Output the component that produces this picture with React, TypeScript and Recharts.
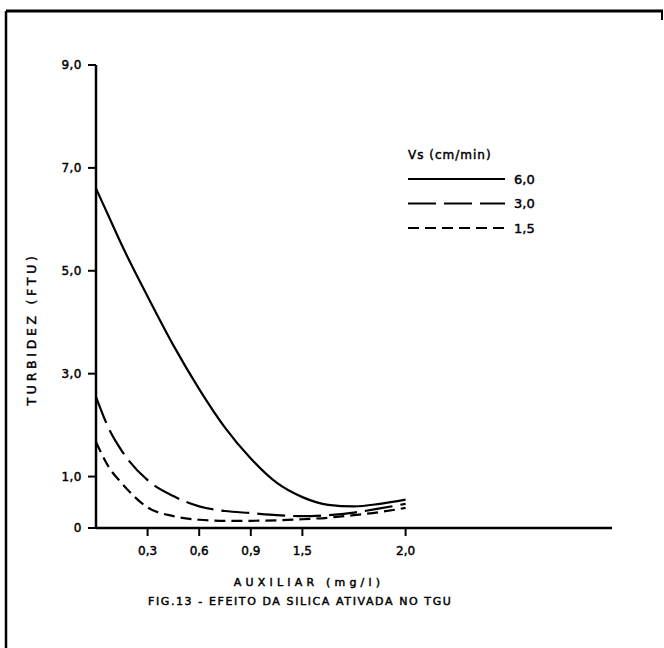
import { LineChart, Line, XAxis, YAxis } from "recharts";

// positions along the drawn x axis (one unit = one tick step on the original scale)
const xPos = [0, 0.25, 0.5, 1, 1.5, 2, 2.5, 3, 3.5, 4, 4.5, 5, 5.5, 6];
const vs60 = [6.6, 6.05, 5.5, 4.5, 3.55, 2.7, 1.95, 1.35, 0.88, 0.6, 0.45, 0.42, 0.47, 0.55];
const vs30 = [2.55, 1.93, 1.5, 0.93, 0.62, 0.42, 0.33, 0.29, 0.25, 0.23, 0.25, 0.3, 0.38, 0.47];
const vs15 = [1.67, 1.18, 0.87, 0.4, 0.23, 0.16, 0.14, 0.14, 0.15, 0.17, 0.2, 0.25, 0.31, 0.39];

const xTickPos = [1, 2, 3, 4, 6];
const xTickLabels = ["0,3", "0,6", "0,9", "1,5", "2,0"];
const yTicks = [0, 1, 3, 5, 7, 9];
const yTickLabels = ["0", "1,0", "3,0", "5,0", "7,0", "9,0"];

const seriesKeys = ["vs60", "vs30", "vs15"];
const seriesNames = ["6,0", "3,0", "1,5"];
const seriesDash = ["0", "28 8", "11 6"];

const data = xPos.map((x, i) => ({
  x,
  vs60: vs60[i],
  vs30: vs30[i],
  vs15: vs15[i],
}));

const FONT = "'DejaVu Sans', sans-serif";
// stroked text so the lettering looks like the heavier ink of the scan
const ink = { fill: "#000", stroke: "#000", strokeWidth: 0.45, fontFamily: FONT };

const XTick = ({ x, y, payload }: any) => {
  const i = xTickPos.indexOf(payload.value);
  return (
    <text x={x} y={y} dy="0.71em" textAnchor="middle" fontSize={12} {...ink}>
      {xTickLabels[i]}
    </text>
  );
};

const YTick = ({ x, y, payload }: any) => {
  const i = yTicks.indexOf(payload.value);
  return (
    <text x={x} y={y} dy="0.35em" textAnchor="end" fontSize={12} letterSpacing={0.5} {...ink}>
      {yTickLabels[i]}
    </text>
  );
};

export default function App() {
  return (
    <div style={{ position: "relative", width: 664, height: 648, background: "#fff" }}>
      <style>{`body{margin:0}`}</style>
      <LineChart
        width={664}
        height={648}
        data={data}
        margin={{ top: 65, right: 52, left: 36, bottom: 90 }}
      >
        <XAxis
          dataKey="x"
          type="number"
          domain={[0, 10]}
          ticks={xTickPos}
          tick={<XTick />}
          tickSize={8}
          tickMargin={10}
          height={30}
          axisLine={{ stroke: "#000", strokeWidth: 2.5 }}
          tickLine={{ stroke: "#000", strokeWidth: 2 }}
        />
        <YAxis
          type="number"
          domain={[0, 9]}
          ticks={yTicks}
          tick={<YTick />}
          tickSize={8}
          tickMargin={6}
          width={60}
          axisLine={{ stroke: "#000", strokeWidth: 2.5 }}
          tickLine={{ stroke: "#000", strokeWidth: 2 }}
        />
        {seriesKeys.map((k, i) => (
          <Line
            key={k}
            dataKey={k}
            name={seriesNames[i]}
            type="monotone"
            stroke="#000"
            strokeWidth={2.2}
            strokeDasharray={seriesDash[i]}
            dot={false}
            isAnimationActive={false}
          />
        ))}
      </LineChart>
      <svg
        width={664}
        height={648}
        style={{ position: "absolute", left: 0, top: 0, pointerEvents: "none" }}
      >
        {/* frame of the scanned figure */}
        <line x1={6} y1={11} x2={663} y2={11} stroke="#000" strokeWidth={3} />
        <line x1={6} y1={11} x2={6} y2={648} stroke="#000" strokeWidth={2.5} />
        <line x1={662} y1={11} x2={662} y2={20} stroke="#000" strokeWidth={2} />

        {/* legend */}
        <text x={408} y={159} fontSize={12} letterSpacing={1} {...ink}>
          Vs (cm/min)
        </text>
        {seriesKeys.map((k, i) => (
          <g key={k}>
            <line
              x1={408}
              x2={505}
              y1={179 + i * 24.5}
              y2={179 + i * 24.5}
              stroke="#000"
              strokeWidth={2.2}
              strokeDasharray={seriesDash[i]}
            />
            <text x={514} y={179 + i * 24.5} dy="0.35em" fontSize={13} {...ink}>
              {seriesNames[i]}
            </text>
          </g>
        ))}

        {/* axis titles and caption */}
        <text
          transform="translate(36,329) rotate(-90)"
          textAnchor="middle"
          fontSize={12.5}
          letterSpacing={3.7}
          {...ink}
        >
          TURBIDEZ (FTU)
        </text>
        <text x={309} y={586} textAnchor="middle" fontSize={11} letterSpacing={4.2} {...ink}>
          AUXILIAR (mg/l)
        </text>
        <text x={148} y={605} fontSize={11} letterSpacing={1.6} {...ink}>
          FIG.13 - EFEITO DA SILICA ATIVADA NO TGU
        </text>
      </svg>
    </div>
  );
}
